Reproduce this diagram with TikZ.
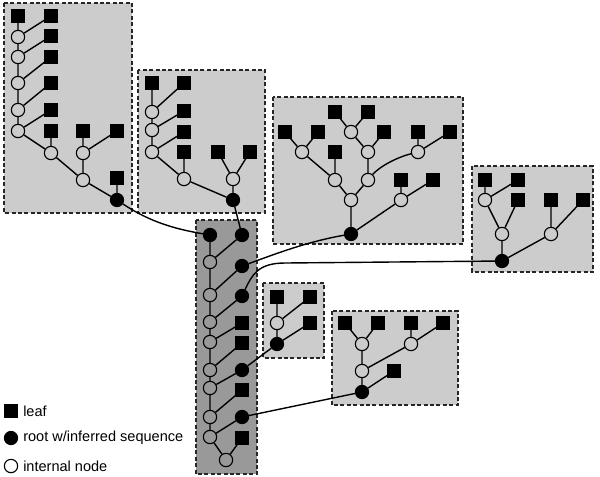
\documentclass[tikz,border=0pt]{standalone}
\usepackage{fontspec}
\setmainfont{Liberation Sans}
\begin{document}
\begin{tikzpicture}[x=0.75pt,y=-0.75pt,
  leaf/.style={rectangle,fill=black,minimum size=9.8pt,inner sep=0pt},
  rootn/.style={circle,fill=black,draw=black,line width=0.7pt,minimum size=10pt,inner sep=0pt},
  intn/.style={circle,draw=black,line width=0.85pt,minimum size=10pt,inner sep=0pt},
  boxl/.style={draw=black!85,dash pattern=on 3pt off 1.8pt,line width=0.95pt,fill=black!20},
  boxd/.style={draw=black!85,dash pattern=on 3pt off 1.8pt,line width=0.95pt,fill=black!40},
  edge/.style={line width=1.05pt},
  lab/.style={anchor=west,inner sep=0pt,font=\fontsize{10.9}{13}\selectfont}]
\useasboundingbox (0,0) rectangle (600,476);
% boxes
\draw[boxl] (4,3) rectangle (132,213);
\draw[boxl] (138,70) rectangle (265,213);
\draw[boxl] (273,97) rectangle (463,244);
\draw[boxl] (472,166) rectangle (593,272);
\draw[boxl] (263,283) rectangle (324,358);
\draw[boxl] (332,311) rectangle (458,405);
% box 1
\node[leaf] (a1) at (18,16) {};
\node[leaf] (a2) at (51,16) {};
\node[intn] (ac1) at (18,37) {};
\node[leaf] (a3) at (51,36) {};
\node[intn] (ac2) at (18,57) {};
\node[leaf] (a4) at (51,57) {};
\node[intn] (ac3) at (18,83) {};
\node[leaf] (a5) at (51,83) {};
\node[intn] (ac4) at (18,110) {};
\node[leaf] (a6) at (51,110) {};
\node[intn] (ac5) at (18,131) {};
\node[leaf] (a7) at (51,131) {};
\node[leaf] (a8) at (83,131) {};
\node[leaf] (a9) at (117,131) {};
\node[intn] (ac6) at (51,153) {};
\node[intn] (ac7) at (83,153) {};
\node[intn] (ac8) at (83,180) {};
\node[leaf] (a10) at (117,178) {};
\node[rootn] (ar) at (117,200) {};
\draw[edge] (a1)--(ac1) (ac1)--(a2) (ac1)--(ac2) (ac2)--(a3) (ac2)--(ac3) (ac3)--(a4)
  (ac3)--(ac4) (ac4)--(a5) (ac4)--(ac5) (ac5)--(a6) (ac5)--(ac6) (ac6)--(a7) (ac6)--(ac8)
  (ac7)--(a8) (ac7)--(a9) (ac7)--(ac8) (ac8)--(ar) (ar)--(a10);
% box 2
\node[leaf] (b1) at (152,83) {};
\node[leaf] (b2) at (184,83) {};
\node[intn] (bc1) at (152,112) {};
\node[leaf] (b3) at (184,111) {};
\node[intn] (bc2) at (152,130) {};
\node[leaf] (b4) at (184,132) {};
\node[intn] (bc3) at (152,152) {};
\node[leaf] (b5) at (184,152) {};
\node[leaf] (b6) at (218,152) {};
\node[leaf] (b7) at (250,152) {};
\node[intn] (bc4) at (184,179) {};
\node[intn] (bc5) at (233,179) {};
\node[rootn] (br) at (233,200) {};
\draw[edge] (b1)--(bc1) (bc1)--(b2) (bc1)--(bc2) (bc2)--(b3) (bc2)--(bc3) (bc3)--(b4)
  (bc3)--(bc4) (bc4)--(b5) (bc4)--(br) (bc5)--(b6) (bc5)--(b7) (bc5)--(br);
% box 3
\node[leaf] (c1) at (335,112) {};
\node[leaf] (c2) at (368,112) {};
\node[leaf] (c3) at (285,132) {};
\node[leaf] (c4) at (318,132) {};
\node[leaf] (c5) at (384,132) {};
\node[leaf] (c6) at (418,132) {};
\node[leaf] (c7) at (450,132) {};
\node[leaf] (c8) at (335,152) {};
\node[leaf] (c9) at (401,180) {};
\node[leaf] (c10) at (433,180) {};
\node[intn] (cc1) at (351,132) {};
\node[intn] (cc2) at (302,152) {};
\node[intn] (cc3) at (368,152) {};
\node[intn] (cc4) at (418,152) {};
\node[intn] (cc5) at (335,180) {};
\node[intn] (cc6) at (368,180) {};
\node[intn] (cc7) at (351,200) {};
\node[intn] (cc8) at (401,200) {};
\node[rootn] (cr) at (351,234) {};
\draw[edge] (c1)--(cc1) (c2)--(cc1) (cc1)--(cc3) (cc3)--(c5) (cc2)--(c3) (cc2)--(c4)
  (cc2)--(cc5) (cc5)--(c8) (cc3)--(cc6) (cc4)--(c6) (cc4)--(c7) (cc5)--(cc7) (cc6)--(cc7)
  (cc7)--(cr) (cc8)--(c9) (cc8)--(c10) (cc8)--(cr);
\draw[edge] (cc6) .. controls (380,166) and (398,157) .. (cc4);
% box 4
\node[leaf] (d1) at (485,180) {};
\node[leaf] (d2) at (518,180) {};
\node[leaf] (d3) at (518,200) {};
\node[leaf] (d4) at (551,200) {};
\node[leaf] (d5) at (583,200) {};
\node[intn] (dc1) at (485,200) {};
\node[intn] (dc2) at (502,234) {};
\node[intn] (dc3) at (551,234) {};
\node[rootn] (dr) at (502,261) {};
\draw[edge] (d1)--(dc1) (dc1)--(d2) (dc1)--(dc2) (dc2)--(d3) (dc2)--(dr) (dc3)--(d4)
  (dc3)--(d5) (dc3)--(dr);
% box 5
\node[leaf] (g1) at (277,297) {};
\node[leaf] (g2) at (310,297) {};
\node[intn] (gc) at (277,323) {};
\node[leaf] (g3) at (310,323) {};
\node[rootn] (gr) at (277,344) {};
\draw[edge] (g1)--(gc) (gc)--(g2) (gc)--(gr) (gr)--(g3);
% box 6
\node[leaf] (h1) at (345,323) {};
\node[leaf] (h2) at (378,323) {};
\node[leaf] (h3) at (411,323) {};
\node[leaf] (h4) at (443,323) {};
\node[intn] (hc1) at (362,344) {};
\node[intn] (hc2) at (411,344) {};
\node[intn] (hc3) at (362,371) {};
\node[leaf] (h5) at (394,371) {};
\node[rootn] (hr) at (362,392) {};
\draw[edge] (h1)--(hc1) (h2)--(hc1) (h3)--(hc2) (h4)--(hc2) (hc1)--(hc3) (hc2)--(hc3)
  (hc3)--(hr) (hr)--(h5);
% central box
\draw[boxd] (196,220) rectangle (257,474);
\node[rootn] (e1) at (210,235) {};
\node[intn] (ec1) at (210,262) {};
\node[intn] (ec2) at (210,295) {};
\node[intn] (ec3) at (210,322) {};
\node[intn] (ec4) at (210,342) {};
\node[intn] (ec5) at (210,370) {};
\node[intn] (ec6) at (210,388) {};
\node[intn] (ec7) at (210,417) {};
\node[intn] (ec8) at (210,437) {};
\node[intn] (ec9) at (226,460) {};
\node[rootn] (f1) at (242,235) {};
\node[rootn] (f2) at (242,266) {};
\node[rootn] (f3) at (242,296) {};
\node[leaf] (f4) at (242,323) {};
\node[leaf] (f5) at (242,343) {};
\node[rootn] (f6) at (242,370) {};
\node[leaf] (f7) at (242,390) {};
\node[rootn] (f8) at (242,417) {};
\node[leaf] (f9) at (242,438) {};
\draw[edge] (e1)--(ec1) (ec1)--(ec2) (ec2)--(ec3) (ec3)--(ec4) (ec4)--(ec5) (ec5)--(ec6)
  (ec6)--(ec7) (ec7)--(ec8) (ec8)--(ec9)
  (ec1)--(f1) (ec2)--(f2) (ec3)--(f3) (ec4)--(f4) (ec5)--(f5) (ec6)--(f6) (ec7)--(f7)
  (ec8)--(f8) (ec9)--(f9);
% connectors between subtrees and central box
\draw[edge] (ar) .. controls (150,222) and (175,229) .. (e1);
\draw[edge] (br)--(f1);
\draw[edge] (f2) .. controls (270,256) and (305,242) .. (cr);
\coordinate (k4) at (285,263);
\draw[edge] (f3) .. controls (252,275) and (258,263) .. (k4) -- (dr);
\draw[edge] (f6)--(gr);
\draw[edge] (f8)--(hr);
% legend
\node[leaf] (l1) at (11,411) {};
\node[rootn] (l2) at (11,438) {};
\node[intn] (l3) at (11,466) {};
\node[lab] (t1) at (23,411) {leaf};
\node[lab] (t2) at (23,438) {root w/inferred sequence};
\node[lab] (t3) at (23,466) {internal node};
\end{tikzpicture}
\end{document}
